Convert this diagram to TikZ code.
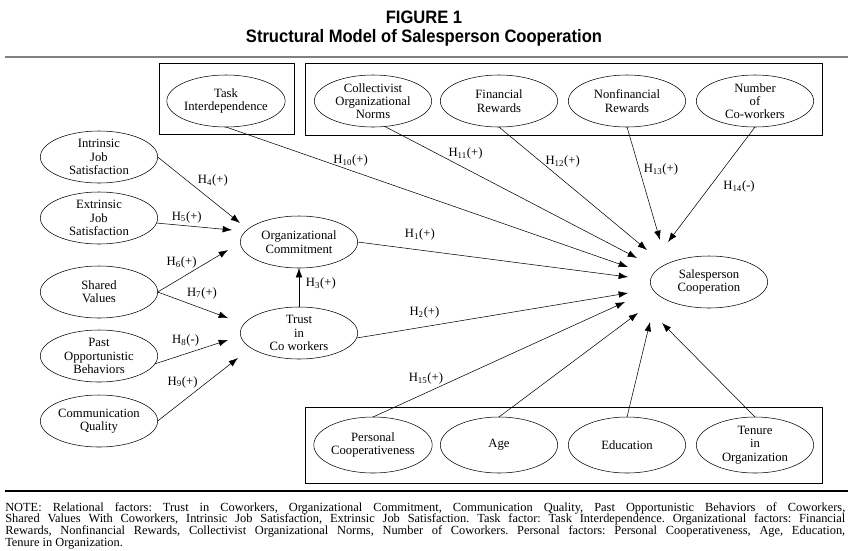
\documentclass[tikz,border=0pt]{standalone}
\usepackage{fontspec}
\setmainfont{Liberation Serif}
\newfontfamily\headfont[FakeStretch=0.92]{Liberation Sans}
\newfontfamily\notefont{Liberation Serif}
\usetikzlibrary{shapes.geometric,arrows.meta,calc}
\frenchspacing

\begin{document}
\begin{tikzpicture}[x=0.75pt,y=-0.75pt,
  var/.style={draw,ellipse,thin,minimum width=88pt,minimum height=39pt,inner sep=0pt,outer sep=0pt,align=center,font=\fontsize{9.5}{10}\selectfont},
  hyp/.style={->,>={Latex[length=7pt,width=5pt]},thin},
  lbl/.style={font=\fontsize{9.5}{10}\selectfont,inner sep=1pt},
  grp/.style={draw,thin},
  head/.style={font=\headfont\bfseries\fontsize{13.5}{15}\selectfont}]
\useasboundingbox (0,0) rectangle (848,550);

% title
\node[head] (fig) at (424,17) {FIGURE 1};
\node[head] (ttl) at (424,38) {Structural Model of Salesperson Cooperation};
\draw[gray,line width=1.6pt] (5,57) -- (848,57);

% groups
\draw[grp] (159,63) rectangle (294,134);
\draw[grp] (305,63) rectangle (822,135);
\draw[grp] (305,407) rectangle (822,483);

% relational factors
\node[var] (intr) at (99,157) {Intrinsic\\Job\\Satisfaction};
\node[var] (extr) at (99,218) {Extrinsic\\Job\\Satisfaction};
\node[var] (shv) at (99,292) {Shared\\Values};
\node[var] (past) at (99,356) {Past\\Opportunistic\\Behaviors};
\node[var] (comq) at (99,421) {Communication\\Quality};
\node[var] (orgc) at (299,242) {Organizational\\Commitment};
\node[var] (trust) at (299,333) {Trust\\in\\Co workers};

% task and organizational factors
\node[var] (tint) at (226,101) {Task\\Interdependence};
\node[var] (coll) at (373,101) {Collectivist\\Organizational\\Norms};
\node[var] (fin) at (499,101) {Financial\\Rewards};
\node[var] (nfin) at (627,101) {Nonfinancial\\Rewards};
\node[var] (ncow) at (755,101) {Number\\of\\Co-workers};

% outcome
\node[var] (spc) at (709,282) {Salesperson\\Cooperation};

% personal factors
\node[var,minimum height=42pt] (pcoop) at (373,445) {Personal\\Cooperativeness};
\node[var,minimum height=42pt] (age) at (499,445) {Age};
\node[var,minimum height=42pt] (edu) at (627,445) {Education};
\node[var,minimum height=42pt] (ten) at (755,445) {Tenure\\in\\Organization};

% hypotheses
\draw[hyp] (intr.east) -- ($(orgc)+(-59,-19)$) node[lbl,pos=0.67,above=10pt] (h4) {H\textsubscript{4}(+)};
\draw[hyp] (extr.-5) -- ($(orgc)+(-67,-12)$) node[lbl,pos=0.4,above=1pt] (h5) {H\textsubscript{5}(+)};
\draw[hyp] (shv.east) -- ($(orgc)+(-71,8)$) node[lbl,pos=0.34,above=6pt] (h6) {H\textsubscript{6}(+)};
\draw[hyp] (shv.east) -- ($(trust)+(-71,-15)$) node[lbl,pos=0.63,above=6pt] (h7) {H\textsubscript{7}(+)};
\draw[hyp] (past.-8) -- ($(trust)+(-71,7)$) node[lbl,pos=0.42,above=4.5pt] (h8) {H\textsubscript{8}(-)};
\draw[hyp] (comq.east) -- ($(trust)+(-61,25)$) node[lbl,pos=0.31,above=9pt] (h9) {H\textsubscript{9}(+)};
\draw[hyp] (trust.north) -- (orgc.south) node[lbl,pos=0.6,right=4pt] (h3) {H\textsubscript{3}(+)};
\draw[hyp] (orgc.east) -- ($(spc)+(-81,-5)$) node[lbl,pos=0.23,above=6pt] (h1) {H\textsubscript{1}(+)};
\draw[hyp] (trust.-5) -- ($(spc)+(-81,11)$) node[lbl,pos=0.25,above=5pt] (h2) {H\textsubscript{2}(+)};
\draw[hyp] (tint.south) -- ($(spc)+(-81,-15)$) node[lbl,pos=0.31,above=2pt] (h10) {H\textsubscript{10}(+)};
\draw[hyp] (coll.-65) -- ($(spc)+(-72,-24)$) node[lbl,pos=0.32,above=5.5pt] (h11) {H\textsubscript{11}(+)};
\draw[hyp] (fin.south) -- ($(spc)+(-62,-32)$) node[lbl,pos=0.43,above=8pt] (h12) {H\textsubscript{12}(+)};
\draw[hyp] (nfin.south) -- ($(spc)+(-49,-42)$) node[lbl,pos=0.38,right=2pt] (h13) {H\textsubscript{13}(+)};
\draw[hyp] (ncow.south) -- ($(spc)+(-41,-40)$) node[lbl,pos=0.52,right=9pt] (h14) {H\textsubscript{14}(-)};
\draw[hyp] (pcoop.north) -- ($(spc)+(-84,20)$) node[lbl,pos=0.21,above=5pt] (h15) {H\textsubscript{15}(+)};
\draw[hyp] (age.north) -- ($(spc)+(-71,31)$);
\draw[hyp] (edu.north) -- ($(spc)+(-59,40)$);
\draw[hyp] (ten.north) -- ($(spc)+(-47,41)$);

% note
\draw[line width=1pt] (5,491) -- (848,491);
\node[anchor=north west,inner sep=0pt,text width=630pt,align=justify,
  font=\notefont\fontsize{9.3}{8.8}\selectfont] (note) at (5,502)
  {NOTE: Relational factors: Trust in Coworkers, Organizational Commitment, Communication Quality, Past Opportunistic Behaviors of Coworkers,\linebreak
  Shared Values With Coworkers, Intrinsic Job Satisfaction, Extrinsic Job Satisfaction. Task factor: Task Interdependence. Organizational factors: Financial\linebreak
  Rewards, Nonfinancial Rewards, Collectivist Organizational Norms, Number of Coworkers. Personal factors: Personal Cooperativeness, Age, Education,\linebreak
  Tenure in Organization.};
\end{tikzpicture}
\end{document}
